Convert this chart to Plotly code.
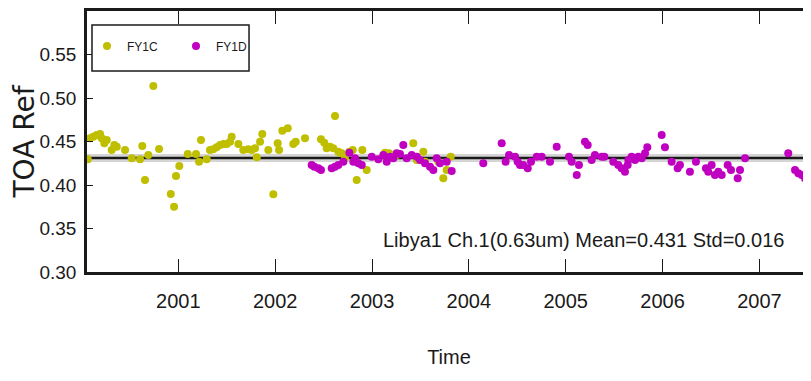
import plotly.graph_objects as go

# ---- data (decimal year, TOA reflectance) ----
fy1c_year = [2000.065, 2000.088, 2000.122, 2000.157, 2000.192, 2000.209, 2000.236, 2000.261,
             2000.312, 2000.339, 2000.364, 2000.450, 2000.519, 2000.605, 2000.628, 2000.656,
             2000.690, 2000.742, 2000.801, 2000.922, 2000.956, 2000.976, 2001.010, 2001.097,
             2001.183, 2001.214, 2001.234, 2001.293, 2001.327, 2001.361, 2001.396, 2001.431,
             2001.465, 2001.500, 2001.534, 2001.551, 2001.620, 2001.671, 2001.723, 2001.758,
             2001.792, 2001.810, 2001.844, 2001.867, 2001.929, 2001.981, 2002.026, 2002.040,
             2002.074, 2002.130, 2002.187, 2002.212, 2002.308, 2002.473, 2002.507, 2002.532,
             2002.566, 2002.600, 2002.618, 2002.652, 2002.687, 2002.721, 2002.766, 2002.801,
             2002.842, 2002.900, 2002.945, 2003.134, 2003.176, 2003.255, 2003.426, 2003.462,
             2003.530, 2003.547, 2003.685, 2003.736, 2003.771, 2003.813]
fy1c_ref = [0.4295, 0.4537, 0.4555, 0.4575, 0.4586, 0.4537, 0.4479, 0.4517,
            0.4402, 0.4460, 0.4440, 0.4402, 0.4307, 0.4295, 0.4448, 0.4057,
            0.4345, 0.5138, 0.4414, 0.3897, 0.3751, 0.4103, 0.4218, 0.4356,
            0.4356, 0.4268, 0.4517, 0.4295, 0.4402, 0.4410, 0.4433, 0.4460,
            0.4471, 0.4471, 0.4498, 0.4555, 0.4471, 0.4402, 0.4410, 0.4402,
            0.4422, 0.4318, 0.4498, 0.4586, 0.4402, 0.3893, 0.4479, 0.4402,
            0.4624, 0.4652, 0.4471, 0.4498, 0.4537, 0.4525, 0.4486, 0.4422,
            0.4440, 0.4422, 0.4793, 0.4383, 0.4364, 0.4307, 0.4383, 0.4402,
            0.4057, 0.4402, 0.4172, 0.4371, 0.4364, 0.4345, 0.4479, 0.4287,
            0.4383, 0.4268, 0.4268, 0.4077, 0.4172, 0.4325]

fy1d_year = [2002.377, 2002.404, 2002.446, 2002.473, 2002.584, 2002.618, 2002.652, 2002.704,
             2002.766, 2002.807, 2002.825, 2002.859, 2002.894, 2002.997, 2003.065, 2003.117,
             2003.152, 2003.186, 2003.220, 2003.255, 2003.289, 2003.323, 2003.358, 2003.410,
             2003.462, 2003.496, 2003.547, 2003.599, 2003.633, 2003.668, 2003.702, 2003.771,
             2003.823, 2004.149, 2004.339, 2004.380, 2004.415, 2004.477, 2004.504, 2004.528,
             2004.562, 2004.608, 2004.642, 2004.701, 2004.752, 2004.838, 2004.907, 2005.034,
             2005.062, 2005.114, 2005.137, 2005.199, 2005.227, 2005.268, 2005.302, 2005.372,
             2005.399, 2005.491, 2005.543, 2005.578, 2005.612, 2005.640, 2005.647, 2005.681,
             2005.716, 2005.750, 2005.785, 2005.819, 2005.843, 2005.991, 2006.025, 2006.094,
             2006.156, 2006.180, 2006.283, 2006.345, 2006.448, 2006.472, 2006.507, 2006.541,
             2006.576, 2006.611, 2006.673, 2006.707, 2006.776, 2006.800, 2006.852, 2007.298,
             2007.368, 2007.402, 2007.437, 2007.471, 2007.505, 2007.530]
fy1d_ref = [0.4230, 0.4210, 0.4192, 0.4172, 0.4192, 0.4210, 0.4230, 0.4268,
            0.4371, 0.4268, 0.4307, 0.4249, 0.4230, 0.4325, 0.4295, 0.4345,
            0.4268, 0.4325, 0.4307, 0.4364, 0.4356, 0.4460, 0.4307, 0.4345,
            0.4325, 0.4287, 0.4249, 0.4210, 0.4172, 0.4307, 0.4249, 0.4268,
            0.4160, 0.4249, 0.4479, 0.4268, 0.4345, 0.4325, 0.4268, 0.4230,
            0.4230, 0.4192, 0.4268, 0.4325, 0.4325, 0.4268, 0.4440, 0.4325,
            0.4268, 0.4115, 0.4230, 0.4498, 0.4460, 0.4287, 0.4345, 0.4325,
            0.4325, 0.4268, 0.4230, 0.4192, 0.4153, 0.4230, 0.4287, 0.4325,
            0.4287, 0.4325, 0.4307, 0.4364, 0.4433, 0.4575, 0.4433, 0.4268,
            0.4192, 0.4230, 0.4153, 0.4268, 0.4192, 0.4153, 0.4230, 0.4115,
            0.4153, 0.4115, 0.4230, 0.4172, 0.4077, 0.4172, 0.4307, 0.4364,
            0.4172, 0.4134, 0.4115, 0.4077, 0.4095, 0.4115]

mean_ref = 0.431
std_ref = 0.016
x_ticks = [2001, 2002, 2003, 2004, 2005, 2006, 2007]
x_tick_labels = ["2001", "2002", "2003", "2004", "2005", "2006", "2007"]
y_ticks = [0.30, 0.35, 0.40, 0.45, 0.50, 0.55]
x_range = [2000.057, 2007.533]
y_range = [0.30, 0.60]

FONT = "Liberation Sans, Arial, sans-serif"
INK = "#1a1a1a"

fig = go.Figure()
fig.add_trace(go.Scatter(x=fy1c_year, y=fy1c_ref, mode="markers", name="FY1C",
                         marker=dict(color="#bfbf00", size=8, line=dict(width=0))))
fig.add_trace(go.Scatter(x=fy1d_year, y=fy1d_ref, mode="markers", name="FY1D",
                         marker=dict(color="#c000c0", size=8, line=dict(width=0))))

# mean line with soft grey halo
fig.add_shape(type="line", xref="paper", x0=0, x1=1, yref="y", y0=mean_ref, y1=mean_ref,
              line=dict(color="rgba(150,150,150,0.4)", width=8), layer="below")
fig.add_shape(type="line", xref="paper", x0=0, x1=1, yref="y", y0=mean_ref, y1=mean_ref,
              line=dict(color=INK, width=2.5), layer="below")

# legend frame
fig.add_shape(type="rect", xref="paper", yref="paper", x0=0.0069, x1=0.2238, y0=0.770, y1=0.9464,
              line=dict(color=INK, width=1.5), fillcolor="white", layer="above")

fig.add_annotation(xref="paper", yref="paper", x=0.966, y=0.123, xanchor="right", yanchor="middle",
                   text=f"Libya1 Ch.1(0.63um) Mean={mean_ref:.3f} Std={std_ref:.3f}",
                   showarrow=False, font=dict(family=FONT, size=20, color=INK))

# the page body adds an 8px offset, so the figure is 803x373 with plot at page x 87..811, y 11..272
fig.update_layout(
    width=803, height=373, autosize=False,
    margin=dict(l=79, r=0, t=3, b=109),
    paper_bgcolor="white", plot_bgcolor="white",
    showlegend=True,
    legend=dict(orientation="h", x=0.0, y=0.866, xanchor="left", yanchor="middle",
                borderwidth=0, bgcolor="rgba(0,0,0,0)",
                font=dict(family=FONT, size=12, color=INK),
                itemwidth=30, entrywidth=44, entrywidthmode="pixels", tracegroupgap=0),
)
fig.update_xaxes(range=x_range, tickvals=x_ticks, ticktext=x_tick_labels,
                 showgrid=False, zeroline=False, automargin=False,
                 showline=True, linecolor=INK, linewidth=2.5, mirror="allticks",
                 ticks="inside", ticklen=13, tickcolor=INK, tickwidth=1,
                 tickfont=dict(family=FONT, size=20, color=INK),
                 ticklabelstandoff=9,
                 title=dict(text="Time", font=dict(family=FONT, size=20, color=INK), standoff=40))
fig.update_yaxes(range=y_range, tickvals=y_ticks, tickformat=".2f",
                 showgrid=False, zeroline=False, automargin=False,
                 showline=True, linecolor=INK, linewidth=2.5, mirror=False,
                 ticks="inside", ticklen=6, tickcolor=INK, tickwidth=1,
                 tickfont=dict(family=FONT, size=19, color=INK),
                 ticklabelstandoff=4,
                 title=dict(text="TOA Ref", font=dict(family="DejaVu Sans", size=28, color=INK), standoff=16))

fig.write_html("out.html")
